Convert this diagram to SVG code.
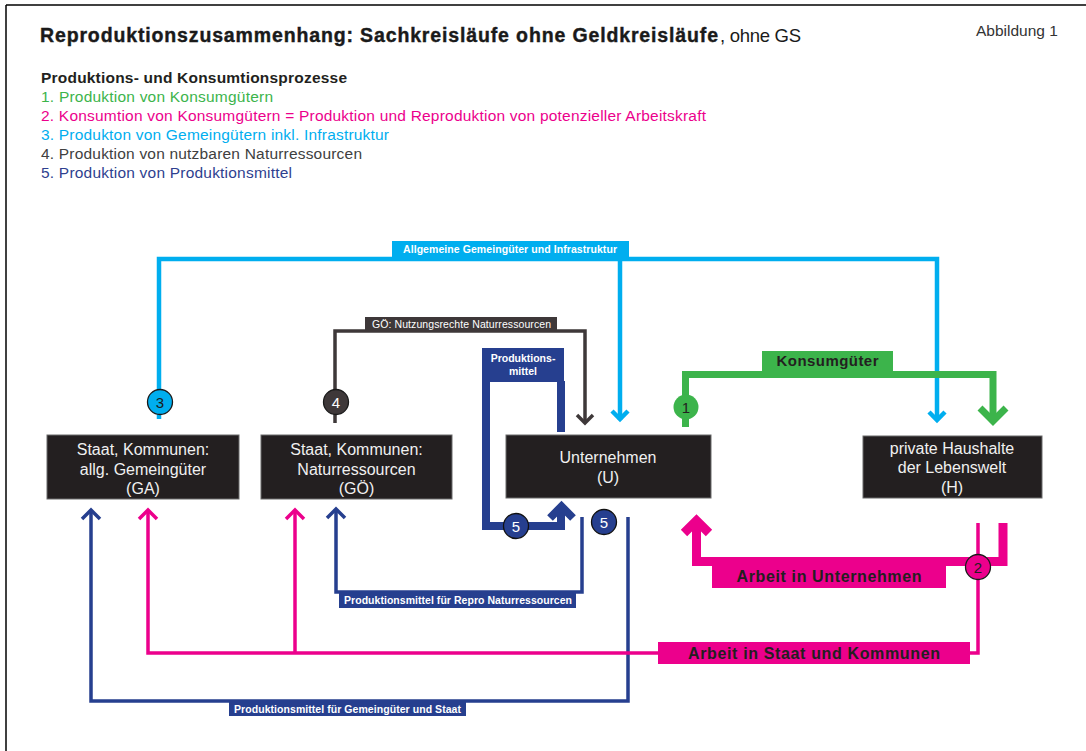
<svg xmlns="http://www.w3.org/2000/svg" width="1086" height="751" viewBox="0 0 1086 751">
  <style>
    text { font-family: "Liberation Sans", Arial, sans-serif; }
    .node rect { fill: #231f20; stroke: #6a6a6a; stroke-width: 1; }
    .node text { fill: #f0f0f0; font-size: 16px; text-anchor: middle; }
    .cy { stroke: #00aeef; fill: none; stroke-width: 4.5; }
    .gr { stroke: #3cb44b; fill: none; stroke-width: 7; }
    .pk { stroke: #ec008c; fill: none; stroke-width: 3.5; }
    .pkT { stroke: #ec008c; fill: none; stroke-width: 9; }
    .bl { stroke: #263f8f; fill: none; stroke-width: 3.5; }
    .blT { stroke: #263f8f; fill: none; stroke-width: 8; }
    .dk { stroke: #3e3839; fill: none; stroke-width: 3.5; }
    .head { stroke-linejoin: miter; stroke-linecap: butt; }
    .lbl { font-size: 10.5px; font-weight: bold; fill: #ffffff; }
    .lblBig { font-size: 16px; font-weight: bold; fill: #231f20; text-anchor: middle; }
    .num { font-size: 15px; text-anchor: middle; }
    .leg { font-size: 15.5px; }
  </style>

  <!-- page frame -->
  <g id="frame" stroke="#000" stroke-width="1.5" fill="none">
    <line x1="6" y1="5" x2="1086" y2="5"/>
    <line x1="6" y1="5" x2="6" y2="751"/>
  </g>

  <!-- heading -->
  <g id="title">
    <text x="40" y="42" font-size="19.5" font-weight="bold" fill="#1a1a1a" stroke="#1a1a1a" stroke-width="0.4" textLength="678">Reproduktionszusammenhang: Sachkreisläufe ohne Geldkreisläufe</text>
    <text x="720" y="42" font-size="18.5" fill="#1a1a1a" textLength="81">, ohne GS</text>
    <text x="976" y="36" font-size="15.5" fill="#333">Abbildung 1</text>
  </g>

  <!-- legend of processes -->
  <g id="legend">
    <text x="41" y="83" font-size="15.5" font-weight="bold" fill="#231f20" textLength="306">Produktions- und Konsumtionsprozesse</text>
    <text class="leg" x="41" y="102" fill="#3cb44b" textLength="232">1. Produktion von Konsumgütern</text>
    <text class="leg" x="41" y="121" fill="#ec008c" textLength="665">2. Konsumtion von Konsumgütern = Produktion und Reproduktion von potenzieller Arbeitskraft</text>
    <text class="leg" x="41" y="140" fill="#00aeef" textLength="348">3. Produkton von Gemeingütern inkl. Infrastruktur</text>
    <text class="leg" x="41" y="159" fill="#404040" textLength="321">4. Produktion von nutzbaren Naturressourcen</text>
    <text class="leg" x="41" y="178" fill="#2e3f8f" textLength="251">5. Produktion von Produktionsmittel</text>
  </g>

  <g id="connectors">
    <!-- 3: common goods and infrastructure -->
    <g id="flow-infrastruktur">
      <path class="cy" d="M159,419 V259 H937 V420"/>
      <path class="cy" d="M620,259 V420"/>
      <polyline class="cy head" points="612,411 620,419 628,411"/>
      <polyline class="cy head" points="929,412 937,420 945,412"/>
      <rect x="392" y="241" width="237" height="19" fill="#00aeef"/>
      <text class="lbl" x="403" y="253" textLength="214">Allgemeine Gemeingüter und Infrastruktur</text>
      <circle cx="160" cy="402" r="12.5" fill="#00aeef" stroke="#1a1a1a" stroke-width="1.3"/>
      <text class="num" x="160" y="407.5" fill="#1a1a1a">3</text>
    </g>

    <!-- 4: usage rights for natural resources -->
    <g id="flow-nutzungsrechte">
      <path class="dk" d="M335,423 V331 H585 V423"/>
      <polyline class="dk head" points="577,415 585,423 593,415"/>
      <rect x="365" y="317" width="192" height="15" fill="#3e3839"/>
      <text x="372" y="328" font-size="10.5" fill="#ffffff" textLength="179">GÖ: Nutzungsrechte Naturressourcen</text>
      <circle cx="336" cy="402" r="12.5" fill="#3e3839" stroke="#1a1a1a" stroke-width="1.3"/>
      <text class="num" x="336" y="407.5" fill="#ffffff">4</text>
    </g>

    <!-- 5: means of production, loop back into enterprises -->
    <g id="flow-produktionsmittel">
      <path class="blT" d="M561,432 V381"/>
      <path class="blT" d="M486,381 V526 H561 V507"/>
      <polyline class="blT head" points="550,518 561.5,506.5 573,518"/>
      <rect x="482" y="348" width="82" height="34" fill="#263f8f"/>
      <text class="lbl" x="523" y="362" text-anchor="middle">Produktions-</text>
      <text class="lbl" x="523" y="375" text-anchor="middle">mittel</text>
      <circle cx="516" cy="526" r="12.5" fill="#263f8f" stroke="#111" stroke-width="1.3"/>
      <text class="num" x="516" y="531.5" fill="#ffffff">5</text>
      <circle cx="604" cy="522" r="12.5" fill="#263f8f" stroke="#111" stroke-width="1.3"/>
      <text class="num" x="604" y="527.5" fill="#ffffff">5</text>
    </g>

    <!-- 5: means of production for natural resources -->
    <g id="flow-repro-natur">
      <path class="bl" d="M582,517 V592 H336 V509"/>
      <polyline class="bl head" points="327,518 336,509 345,518"/>
      <rect x="339" y="592" width="237" height="16" fill="#263f8f"/>
      <text class="lbl" x="344" y="604" textLength="228">Produktionsmittel für Repro Naturressourcen</text>
    </g>

    <!-- 5: means of production for common goods and the state -->
    <g id="flow-gemeingueter-staat">
      <path class="bl" d="M628,517 V701 H91 V510"/>
      <polyline class="bl head" points="82,519 91,510 100,519"/>
      <rect x="229" y="701" width="237" height="15" fill="#263f8f"/>
      <text class="lbl" x="234" y="712.5" font-size="10" textLength="227">Produktionsmittel für Gemeingüter und Staat</text>
    </g>

    <!-- 1: consumer goods -->
    <g id="flow-konsumgueter">
      <path class="gr" d="M685.5,427 V374.5 H993 V418"/>
      <polyline class="gr head" points="980,408 993,421 1006,408"/>
      <rect x="762" y="351" width="131" height="21" fill="#3cb44b"/>
      <text x="827.5" y="366" font-size="15" font-weight="bold" fill="#231f20" text-anchor="middle" textLength="102">Konsumgüter</text>
      <circle cx="686" cy="407" r="12.5" fill="#3cb44b"/>
      <text class="num" x="686" y="412.5" fill="#231f20">1</text>
    </g>

    <!-- 2: labour in enterprises -->
    <g id="flow-arbeit-unternehmen">
      <path class="pkT" d="M1003,523 V561.5 H696.5 V524"/>
      <polyline class="pkT head" points="684,533 696.5,520.5 709,533"/>
      <rect x="712" y="561" width="234" height="27" fill="#ec008c"/>
      <text class="lblBig" x="829" y="582" textLength="185">Arbeit in Unternehmen</text>
    </g>

    <!-- 2: labour in state and municipalities -->
    <g id="flow-arbeit-staat">
      <path class="pk" d="M978,523 V653 H148 V511"/>
      <path class="pk" d="M295,653 V511"/>
      <polyline class="pk head" points="139,519 148,510 157,519"/>
      <polyline class="pk head" points="286,519 295,510 304,519"/>
      <rect x="658" y="642" width="312" height="22" fill="#ec008c"/>
      <text class="lblBig" x="814" y="659" textLength="252">Arbeit in Staat und Kommunen</text>
      <circle cx="978" cy="567" r="12.5" fill="#ec008c" stroke="#1a1a1a" stroke-width="1.3"/>
      <text class="num" x="978" y="572.5" fill="#231f20">2</text>
    </g>
  </g>

  <g id="node-GA" class="node">
    <rect x="47" y="435" width="192" height="64"/>
    <text x="143" y="455">Staat, Kommunen:</text>
    <text x="143" y="474.5">allg. Gemeingüter</text>
    <text x="143" y="494">(GA)</text>
  </g>

  <g id="node-GOe" class="node">
    <rect x="261" y="435" width="191" height="64"/>
    <text x="356.5" y="455">Staat, Kommunen:</text>
    <text x="356.5" y="474.5">Naturressourcen</text>
    <text x="356.5" y="494">(GÖ)</text>
  </g>

  <g id="node-U" class="node">
    <rect x="506" y="435" width="205" height="63"/>
    <text x="608" y="463">Unternehmen</text>
    <text x="608" y="483">(U)</text>
  </g>

  <g id="node-H" class="node">
    <rect x="863" y="436" width="179" height="62"/>
    <text x="952" y="454">private Haushalte</text>
    <text x="952" y="473">der Lebenswelt</text>
    <text x="952" y="493">(H)</text>
  </g>
</svg>
